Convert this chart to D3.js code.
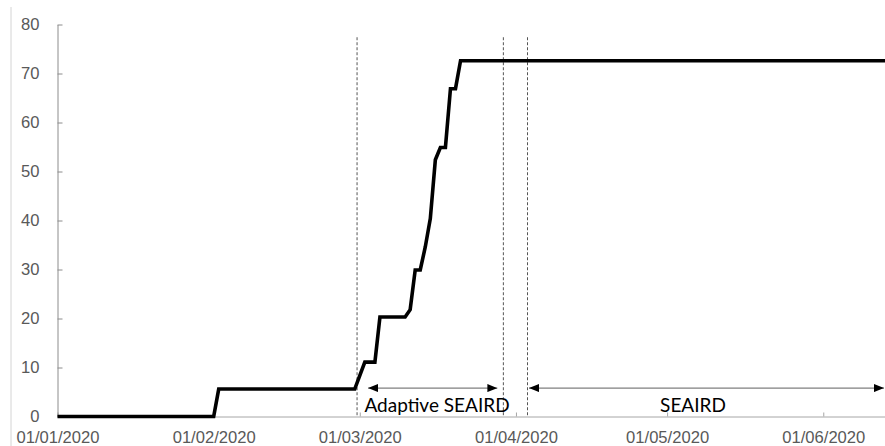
<!DOCTYPE html>
<html>
<head>
<meta charset="utf-8">
<script src="https://cdn.jsdelivr.net/npm/d3@7"></script>
<style>
  html, body { margin: 0; padding: 0; background: #fff; }
  svg { display: block; }
</style>
</head>
<body>
<svg id="chart" width="885" height="446"></svg>
<script>
// ---- data ----
const dates = ["2020-01-01","2020-02-01","2020-02-02","2020-02-29","2020-03-02","2020-03-04",
  "2020-03-05","2020-03-10","2020-03-11","2020-03-12","2020-03-13","2020-03-14","2020-03-15",
  "2020-03-16","2020-03-17","2020-03-18","2020-03-19","2020-03-20","2020-03-21","2020-06-14"];
const values = [0,0,5.6,5.6,11.1,11.1,20.3,20.3,21.8,29.9,29.9,34.6,40.4,52.4,54.9,54.9,66.9,66.9,72.6,72.6];
const yTicks = [0,10,20,30,40,50,60,70,80];
const markerDates = ["2020-02-29 11:00","2020-03-29 12:00","2020-04-03 07:00"];
const phaseLabels = ["Adaptive SEAIRD","SEAIRD"];
const xDomain = ["2020-01-01","2020-06-14"];

// ---- setup ----
const parseDay = d3.utcParse("%Y-%m-%d");
const parseTime = d3.utcParse("%Y-%m-%d %H:%M");
const data = dates.map((d,i) => ({date: parseDay(d), value: values[i]}));

const svg = d3.select("#chart");
const mLeft = 57.5, mTop = 24.5, mBottom = 416.5;
const x = d3.scaleUtc().domain(xDomain.map(parseDay)).range([mLeft, mLeft + 165*5.038]);
const y = d3.scaleLinear().domain([0,80]).range([mBottom, mTop]);

// faint left border
svg.append("line").attr("x1",11).attr("x2",11).attr("y1",7).attr("y2",446)
  .attr("stroke","#d4d4d4").attr("stroke-width",1);

// x axis
const xAxis = svg.append("g").attr("transform",`translate(0,${mBottom})`)
  .call(d3.axisBottom(x).ticks(d3.utcMonth.every(1)).tickFormat(d3.utcFormat("%d/%m/%Y"))
    .tickSizeInner(-4).tickSizeOuter(0).tickPadding(14.7));
xAxis.select(".domain").attr("stroke","#a6a6a6");
xAxis.selectAll(".tick line").attr("stroke","#a6a6a6");
xAxis.selectAll(".tick text").attr("fill","#595959")
  .style("font-family","'Liberation Sans', Arial, sans-serif").style("font-size","16.6px");

// y axis
const yAxis = svg.append("g").attr("transform",`translate(${mLeft},0)`)
  .call(d3.axisLeft(y).tickValues(yTicks).tickSizeInner(-5).tickSizeOuter(0).tickPadding(18));
yAxis.select(".domain").attr("stroke","#8c8c8c");
yAxis.selectAll(".tick line").attr("stroke","#8c8c8c");
yAxis.selectAll(".tick text").attr("fill","#595959")
  .style("font-family","'Liberation Sans', Arial, sans-serif").style("font-size","16.6px");

// dashed phase markers
const mx = markerDates.map(s => x(parseTime(s)));
svg.selectAll(".vmark").data(mx).enter().append("line")
  .attr("x1",d=>d).attr("x2",d=>d).attr("y1",y(77.4)).attr("y2",mBottom)
  .attr("stroke","#555").attr("stroke-width",1).attr("stroke-dasharray","3,2");

// line
svg.append("path").datum(data)
  .attr("d", d3.line().x(d=>x(d.date)).y(d=>y(d.value)))
  .attr("fill","none").attr("stroke","#000").attr("stroke-width",3.6)
  .attr("stroke-linejoin","miter");

// arrows
const defs = svg.append("defs");
defs.append("marker").attr("id","ah").attr("markerUnits","userSpaceOnUse")
  .attr("viewBox","0 0 10 8").attr("refX",10).attr("refY",4)
  .attr("markerWidth",10).attr("markerHeight",8).attr("orient","auto-start-reverse")
  .append("path").attr("d","M0,0L10,4L0,8Z").attr("fill","#000");

const ay = y(5.8);
const arrows = [[mx[0]+11, mx[1]-6],[mx[2]+1.5, 884]];
svg.selectAll(".arrow").data(arrows).enter().append("line")
  .attr("x1",d=>d[0]).attr("x2",d=>d[1]).attr("y1",ay).attr("y2",ay)
  .attr("stroke","#7f7f7f").attr("stroke-width",1.2)
  .attr("marker-start","url(#ah)").attr("marker-end","url(#ah)");

const labelX = [437, 693];
svg.selectAll(".phase").data(phaseLabels).enter().append("text")
  .attr("x",(d,i)=>labelX[i]).attr("y",412).attr("text-anchor","middle")
  .style("font-family","Lato, 'Open Sans', sans-serif").style("font-size","19px")
  .attr("fill","#000").text(d=>d);
</script>
</body>
</html>
